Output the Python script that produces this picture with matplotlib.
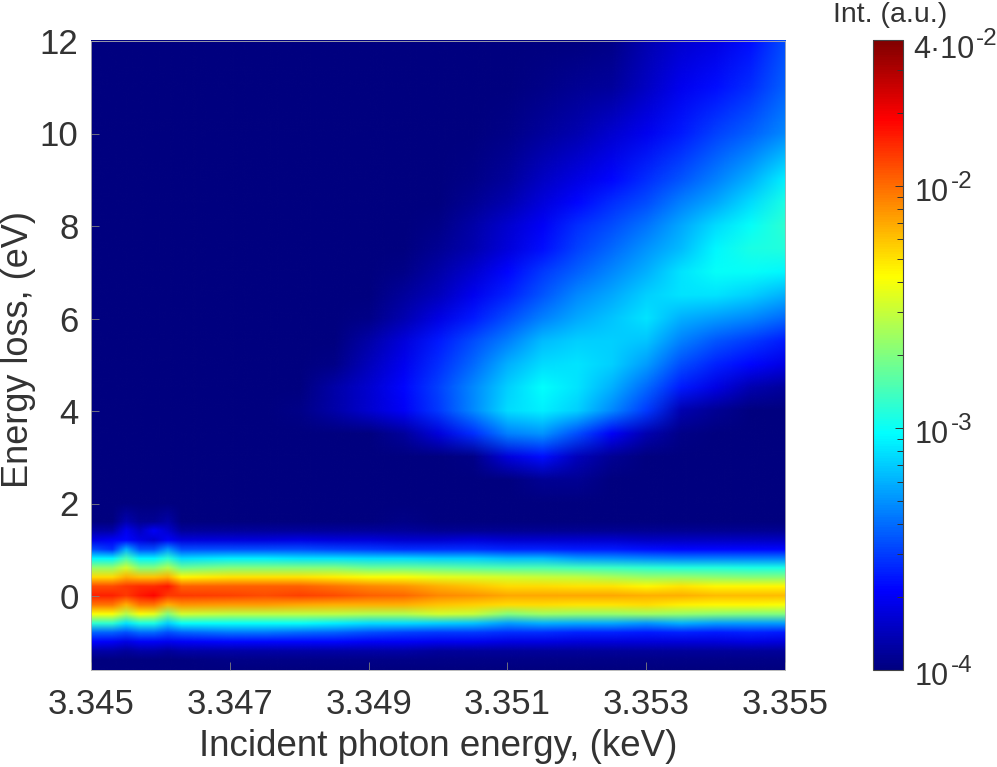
import numpy as np
import matplotlib
matplotlib.use('Agg')
import matplotlib.pyplot as plt
from matplotlib.colors import LogNorm, LinearSegmentedColormap
from matplotlib.image import NonUniformImage
from matplotlib.ticker import FixedLocator, NullFormatter

plt.rcParams['font.family'] = ['Liberation Sans', 'DejaVu Sans']

# incident energy (keV), finer on the left where the elastic line wiggles
incident = [3.3450, 3.3453, 3.3455, 3.3457, 3.3459, 3.3461, 3.3463, 3.3470,
            3.3475, 3.3480, 3.3485, 3.3490, 3.3495, 3.3500, 3.3505, 3.3510,
            3.3515, 3.3520, 3.3525, 3.3530, 3.3535, 3.3540, 3.3545, 3.3550]

band_loss = [-1.6, -1.4, -1.2, -1.0, -0.8, -0.6, -0.4, -0.2, 0.0,
             0.2, 0.4, 0.6, 0.8, 1.0, 1.2, 1.4, 1.6]
upper_loss = [2.0, 2.5, 3.0, 3.5, 4.0, 4.5, 5.0, 5.5, 6.0, 6.5, 7.0, 7.5, 8.0, 8.5,
              9.0, 10.0, 11.0, 12.0]

# intensities as read off the log colour scale (0 = 1e-4, 1 = 4e-2)
# elastic line, one line per incident energy, one value per band_loss
band_levels = [
    [0, .00, .04, .125, .22, .42, .62, .76, .84, .80, .66, .52, .37, .20, .10, .04, 0],
    [0, .00, .04, .12, .22, .42, .62, .76, .84, .80, .66, .52, .37, .17, .12, .04, 0],
    [0, .00, .03, .10, .20, .35, .55, .70, .82, .82, .70, .58, .45, .30, .13, .11, .05],
    [0, .00, .04, .12, .23, .40, .62, .76, .85, .83, .68, .50, .37, .20, .10, .07, .02],
    [0, .00, .04, .12, .23, .40, .60, .76, .87, .83, .68, .50, .37, .20, .08, .12, .02],
    [0, .00, .03, .11, .20, .33, .50, .70, .82, .85, .70, .55, .42, .27, .12, .08, .04],
    [0, .00, .04, .12, .22, .38, .58, .73, .82, .78, .63, .48, .34, .20, .09, .03, 0],
    [0, .01, .04, .13, .24, .38, .56, .72, .81, .78, .65, .50, .36, .20, .09, .03, 0],
    [0, .01, .04, .13, .24, .38, .56, .72, .80, .78, .65, .50, .36, .20, .09, .03, 0],
    [0, .01, .04, .13, .23, .38, .56, .71, .81, .78, .65, .50, .35, .20, .10, .03, 0],
    [0, .01, .04, .13, .22, .36, .56, .70, .80, .76, .64, .50, .35, .19, .09, .03, 0],
    [0, .01, .04, .12, .20, .34, .55, .70, .78, .74, .62, .48, .34, .18, .09, .03, 0],
    [0, .01, .04, .12, .19, .34, .55, .70, .77, .73, .62, .48, .34, .17, .08, .03, .01],
    [0, .01, .03, .11, .18, .33, .58, .68, .74, .70, .60, .47, .33, .17, .08, .02, 0],
    [0, .01, .03, .11, .18, .32, .57, .67, .73, .68, .59, .46, .33, .17, .09, .02, 0],
    [0, .01, .03, .10, .17, .28, .50, .66, .71, .66, .58, .45, .31, .16, .08, .02, 0],
    [0, .01, .03, .10, .17, .30, .53, .66, .71, .66, .57, .45, .31, .16, .08, .02, 0],
    [0, .01, .03, .09, .16, .29, .52, .65, .71, .65, .56, .44, .28, .15, .08, .02, 0],
    [0, .01, .03, .09, .16, .29, .52, .65, .71, .65, .54, .43, .27, .15, .08, .02, 0],
    [0, .01, .03, .09, .15, .27, .53, .66, .70, .63, .52, .42, .26, .14, .07, .02, 0],
    [0, .01, .03, .09, .16, .30, .52, .64, .70, .65, .52, .41, .25, .13, .07, .02, 0],
    [0, .01, .03, .09, .15, .28, .51, .63, .69, .63, .51, .41, .25, .13, .07, .02, 0],
    [0, .01, .03, .10, .16, .28, .50, .63, .69, .63, .50, .40, .25, .13, .07, .02, 0],
    [0, .01, .03, .09, .15, .28, .50, .62, .69, .63, .50, .40, .25, .13, .07, .02, 0],
]

# broad feature, one line per upper_loss, values for incident[9:]
# (everything left of 3.348 keV is at the bottom of the scale)
upper_levels = [
    [0, 0, 0, 0, 0, 0, 0, 0, 0, 0, 0, 0, 0, 0, 0],
    [0, 0, 0, 0, 0, 0, 0, .02, .02, 0, 0, 0, 0, 0, 0],
    [0, 0, 0, 0, 0, .01, .09, .14, .06, .02, 0, 0, 0, 0, 0],
    [0, 0, 0, .03, .09, .17, .25, .27, .20, .12, .05, .01, 0, 0, 0],
    [.01, .04, .08, .12, .18, .26, .34, .36, .33, .26, .18, .05, .02, 0, 0],
    [0, .04, .08, .13, .19, .26, .33, .375, .35, .30, .23, .15, .10, .05, .03],
    [0, .01, .06, .11, .17, .23, .30, .34, .35, .33, .28, .20, .16, .13, .10],
    [0, 0, .04, .09, .15, .20, .25, .31, .33, .33, .32, .25, .21, .18, .15],
    [0, 0, .01, .05, .10, .15, .20, .25, .29, .32, .35, .30, .28, .26, .23],
    [0, 0, 0, .03, .06, .11, .16, .21, .26, .29, .33, .35, .35, .33, .30],
    [0, 0, 0, .01, .04, .08, .13, .18, .22, .26, .30, .35, .38, .38, .37],
    [0, 0, 0, 0, .02, .05, .09, .14, .19, .23, .27, .31, .37, .40, .41],
    [0, 0, 0, 0, .01, .04, .08, .12, .17, .20, .24, .29, .34, .38, .42],
    [0, 0, 0, 0, 0, .02, .05, .09, .13, .17, .20, .25, .29, .34, .40],
    [0, 0, 0, 0, 0, .01, .03, .07, .10, .13, .17, .21, .25, .30, .36],
    [0, 0, 0, 0, 0, 0, .01, .03, .05, .08, .11, .15, .19, .22, .26],
    [0, 0, 0, 0, 0, 0, 0, .01, .02, .03, .07, .11, .14, .17, .22],
    [0, 0, 0, 0, 0, 0, 0, 0, 0, .01, .05, .08, .10, .14, .20],
]

x_ticks = [3.345, 3.347, 3.349, 3.351, 3.353, 3.355]
y_ticks = [0, 2, 4, 6, 8, 10, 12]
cbar_ticks = [1e-4, 1e-3, 1e-2, 4e-2]
cbar_mantissa = ['10', '10', '10', '4\u00b710']
cbar_exponent = ['-4', '-3', '-2', '-2']

W, H = 997, 767
TEXT = '#333333'

# matlab flavour of jet, pure cyan and yellow at the eighths
matlab_jet = LinearSegmentedColormap.from_list('matlab_jet', [
    (0, (0, 0, .5)), (.125, (0, 0, 1)), (.375, (0, 1, 1)),
    (.625, (1, 1, 0)), (.875, (1, 0, 0)), (1, (.5, 0, 0))], N=256)

fig = plt.figure(figsize=(W / 100, H / 100), dpi=100)
ax = fig.add_axes([91 / W, 1 - 670 / H, 694 / W, 629 / H])
cax = fig.add_axes([873 / W, 1 - 670 / H, 30 / W, 630 / H])

norm = LogNorm(vmin=1e-4, vmax=4e-2)

band = np.array(band_levels).T
upper = np.hstack([np.zeros((len(upper_loss), 9)), np.array(upper_levels)])
levels = np.vstack([band, upper])
intensity = norm.inverse(levels)

im = NonUniformImage(ax, interpolation='bilinear', cmap=matlab_jet, norm=norm,
                     extent=(3.345, 3.355, -1.6, 12))
im.set_data(incident, band_loss + upper_loss, intensity)
ax.add_image(im)

ax.set_xlim(3.345, 3.355)
ax.set_ylim(-1.6, 12)
ax.set_xticks(x_ticks)
ax.set_xticklabels([f'{v:.3f}' for v in x_ticks])
ax.set_yticks(y_ticks)
ax.tick_params(direction='in', length=6, width=0.6, color='#808080', labelcolor=TEXT,
               labelsize=25, pad=9)
ax.tick_params(axis='x', pad=13)
ax.set_xlabel('Incident photon energy, (keV)', fontsize=26.5, color=TEXT, labelpad=6)
ax.set_ylabel('Energy loss, (eV)', fontsize=26, color=TEXT, va='center')
ax.yaxis.set_label_coords(-(91 - 19) / 694, (670 - 349) / 629)
for s in ax.spines.values():
    s.set_color('#b0b0b0')
    s.set_linewidth(0.6)

cb = fig.colorbar(im, cax=cax)
cb.set_ticks(cbar_ticks)
cb.set_ticklabels([''] * len(cbar_ticks))
cax.yaxis.set_minor_locator(FixedLocator(
    [m * 10.0 ** e for e in (-4, -3) for m in range(2, 10)] + [2e-2, 3e-2]))
cax.yaxis.set_minor_formatter(NullFormatter())
cax.tick_params(which='major', direction='in', length=6, width=0.7, color='#333333')
cax.tick_params(which='minor', direction='in', length=4, width=0.7, color='#333333')
cb.outline.set_edgecolor('#444444')
cb.outline.set_linewidth(0.8)

# 10 and its raised exponent are separate texts, the exponent is set large with a short hyphen
for tick, mant, expo in zip(cbar_ticks, cbar_mantissa, cbar_exponent):
    drop = -18 if mant != '10' else -15
    left = 10 if mant != '10' else 12
    t = cax.annotate(mant, xy=(1, tick), xycoords=cax.get_yaxis_transform(),
                     xytext=(left, drop), textcoords='offset pixels',
                     fontsize=22, color=TEXT, va='baseline', ha='left')
    width = t.get_window_extent(fig.canvas.get_renderer()).width
    cax.annotate(expo, xy=(1, tick), xycoords=cax.get_yaxis_transform(),
                 xytext=(left + width + 2, drop + 13), textcoords='offset pixels',
                 fontsize=17.5, color=TEXT, va='baseline', ha='left')

fig.text(890 / W, 1 - 15 / H, 'Int. (a.u.)', fontsize=20.5, color=TEXT, ha='center', va='center')

fig.savefig('out.png', dpi=100)
